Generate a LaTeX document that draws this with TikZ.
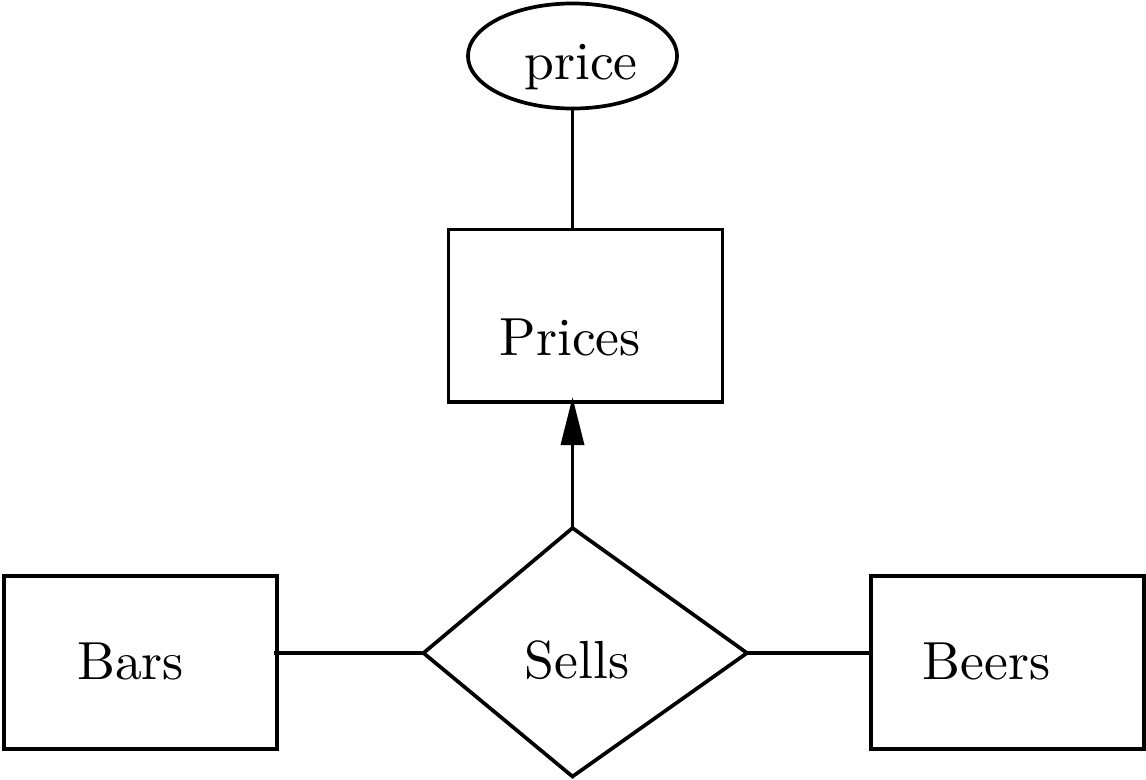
\documentclass[tikz,border=0pt]{standalone}
\usetikzlibrary{shapes.geometric, arrows.meta}

\newcommand{\ertext}[1]{\scalebox{1.525}{#1}}

\begin{document}
\begin{tikzpicture}[x=0.01cm, y=-0.01cm, line width=1.05pt,
    entity/.style={draw, rectangle, inner sep=0pt, outer sep=0pt, minimum width=2.73cm, minimum height=1.73cm},
    attrib/.style={draw, ellipse, inner sep=0pt, outer sep=0pt, minimum width=2.09cm, minimum height=1.05cm},
    txt/.style={inner sep=0pt, anchor=base, font=\fontsize{10}{12}\selectfont}]

    % Page
    \useasboundingbox (0,0) rectangle (1146,779);

    % Relationship corners
    \def\xs{572.5}
    \def\ys{653}
    \coordinate (sellsN) at (\xs, 528);
    \coordinate (sellsS) at (\xs, 776.5);
    \coordinate (sellsW) at (423.5, \ys);
    \coordinate (sellsE) at (747, \ys);

    % Entities
    \node[entity] (bars)   at (140.5, 662.5) {};
    \node[entity] (beers)  at (1007.5, 662.5) {};
    \node[entity, minimum width=2.74cm, minimum height=1.725cm] (prices) at (585.5, 315.75) {};
    % Attribute
    \node[attrib] (price) at (\xs, 56) {};
    % Relationship
    \draw[line join=miter] (sellsN) -- (sellsE) -- (sellsS) -- (sellsW) -- cycle;

    % Labels
    \node[txt] (barsText)   at (130.5, 679) {\ertext{Bars}};
    \node[txt] (beersText)  at (986.7, 679) {\ertext{Beers}};
    \node[txt] (pricesText) at (570.3, 355) {\ertext{Prices}};
    \node[txt] (sellsText)  at (577, 678)   {\ertext{Sells}};
    \node[txt] (priceText)  at (581, 80)    {\ertext{price}};

    % Connectors
    \draw (price.south) -- (price.south |- prices.north);
    \draw[-{Triangle[length=0.48cm, width=0.23cm]}, shorten >=-1.4pt] (sellsN) -- (sellsN |- prices.south);
    \draw ([xshift=-0.8pt]bars.east |- sellsW) -- (sellsW);
    \draw (sellsE) -- (sellsE -| beers.west);

\end{tikzpicture}
\end{document}
